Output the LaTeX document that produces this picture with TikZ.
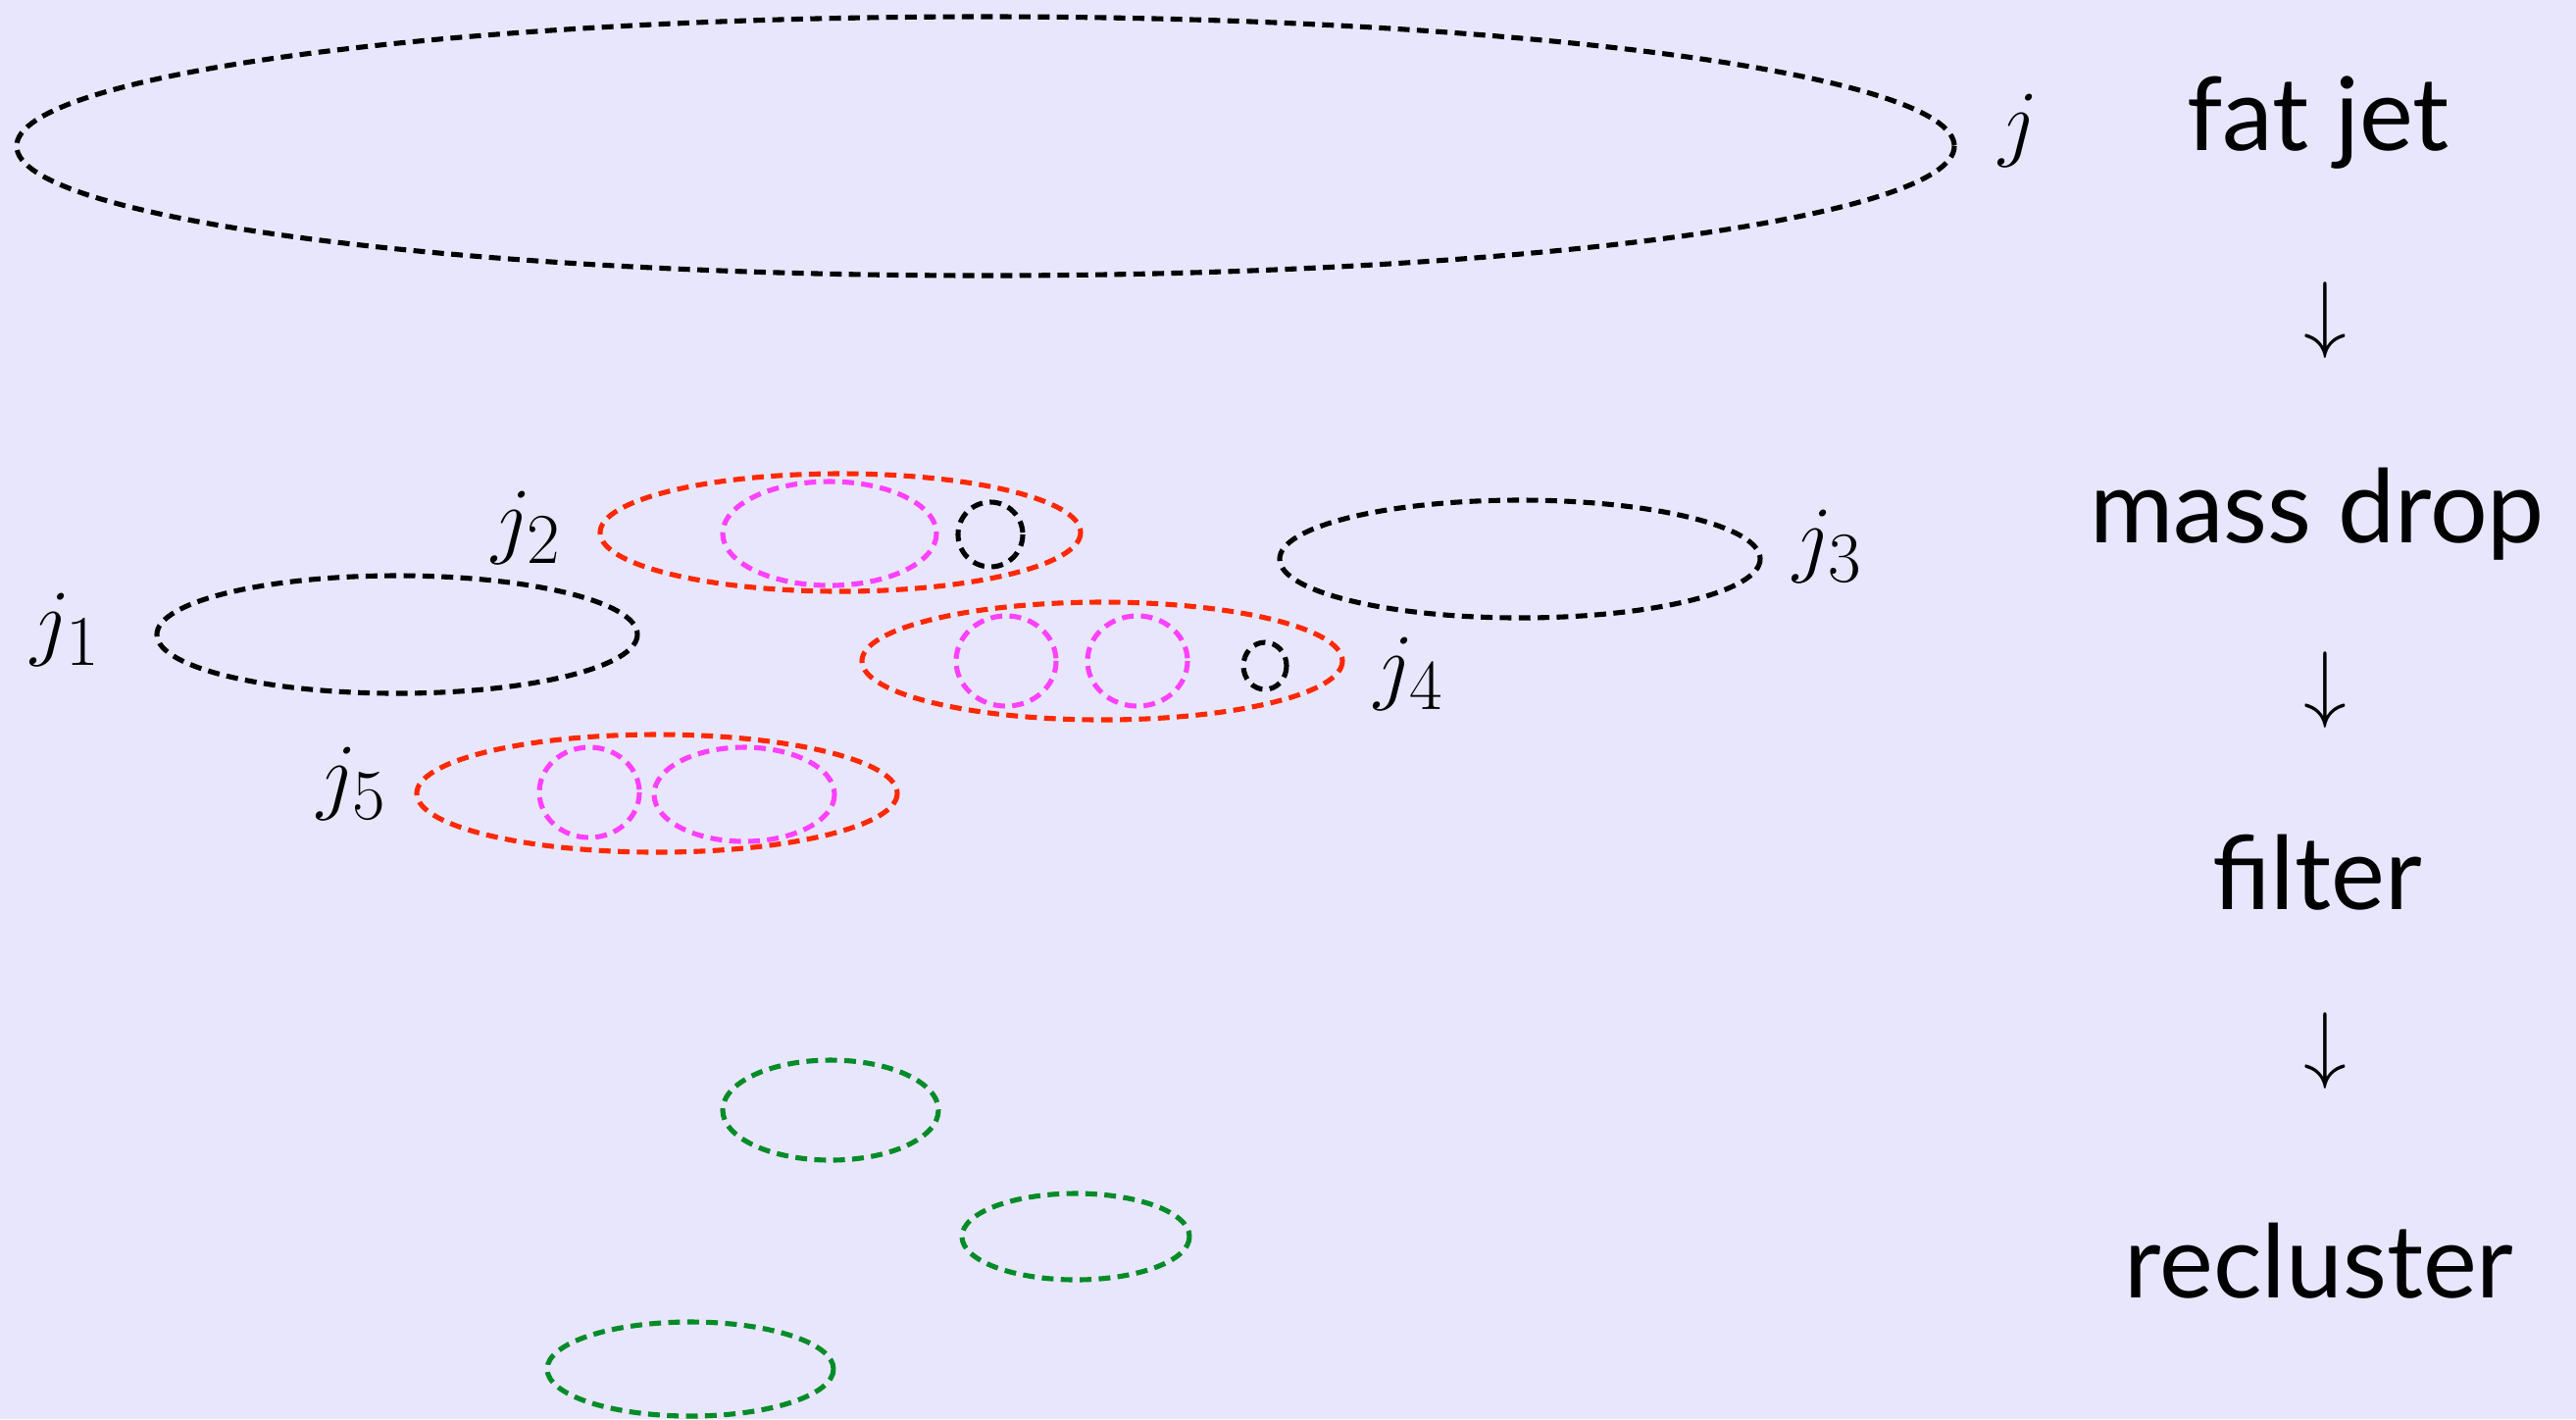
\documentclass[tikz,border=0pt]{standalone}
\usepackage{fontspec}
\setmainfont{Lato}
\definecolor{bgcol}{RGB}{232,230,253}
\definecolor{jetred}{RGB}{255,40,0}
\definecolor{subpink}{RGB}{255,64,255}
\definecolor{keepgreen}{RGB}{0,140,40}
\tikzset{
  jetline/.style={line width=1.45pt, dash pattern=on 3.4pt off 2.1pt},
  blackjet/.style={jetline, draw=black},
  redjet/.style={jetline, draw=jetred},
  pinkjet/.style={jetline, draw=subpink},
  greenjet/.style={jetline, draw=keepgreen},
  jetlabel/.style={anchor=base west, inner sep=0pt, font=\fontsize{27.3}{33}\selectfont},
  steplabel/.style={anchor=base, inner sep=0pt, font=\fontsize{29.5}{35}\selectfont},
  steparrow/.style={anchor=center, inner sep=0pt, font=\fontsize{27.3}{33}\selectfont}
}
\begin{document}
\begin{tikzpicture}[x=0.01cm, y=-0.01cm]
  \fill[bgcol] (0,0) rectangle (2627,1447);
  \useasboundingbox (0,0) rectangle (2627,1447);

  % the fat jet
  \draw[blackjet] (1005,149) ellipse [x radius=988, y radius=132];
  \node[jetlabel] (lj) at (2038,153) {$j$};

  % mass-drop subjets
  \draw[blackjet] (405,647) ellipse [x radius=245, y radius=60];
  \node[jetlabel] (lj1) at (31,662) {$j_1$};

  \draw[redjet] (857,543) ellipse [x radius=245, y radius=60];
  \draw[pinkjet] (846,544) ellipse [x radius=109, y radius=53];
  \draw[blackjet] (1010,545) ellipse [x radius=33, y radius=33];
  \node[jetlabel] (lj2) at (501,558) {$j_2$};

  \draw[blackjet] (1550,570) ellipse [x radius=245, y radius=60];
  \node[jetlabel] (lj3) at (1828,577) {$j_3$};

  \draw[redjet] (1124,674) ellipse [x radius=245, y radius=60];
  \draw[pinkjet] (1026,674) ellipse [x radius=51, y radius=46];
  \draw[pinkjet] (1160,674) ellipse [x radius=51, y radius=46];
  \draw[blackjet] (1290,679) ellipse [x radius=22, y radius=24];
  \node[jetlabel] (lj4) at (1401,707) {$j_4$};

  \draw[redjet] (670,809) ellipse [x radius=245, y radius=60];
  \draw[pinkjet] (601,808) ellipse [x radius=51, y radius=46];
  \draw[pinkjet] (759,810) ellipse [x radius=92, y radius=48];
  \node[jetlabel] (lj5) at (323,819) {$j_5$};

  % reclustered jets
  \draw[greenjet] (847,1132) ellipse [x radius=110, y radius=51];
  \draw[greenjet] (1097,1261) ellipse [x radius=116, y radius=44];
  \draw[greenjet] (704,1396) ellipse [x radius=146, y radius=48];

  % steps of the procedure
  \node[steplabel] (s1) at (2364,153) {fat jet};
  \node[steparrow] (a1) at (2371,327) {$\downarrow$};
  \node[steplabel] (s2) at (2363,553) {mass drop};
  \node[steparrow] (a2) at (2371,704) {$\downarrow$};
  \node[steplabel] (s3) at (2363,927) {filter};
  \node[steparrow] (a3) at (2371,1072) {$\downarrow$};
  \node[steplabel] (s4) at (2365,1323) {recluster};
\end{tikzpicture}
\end{document}
